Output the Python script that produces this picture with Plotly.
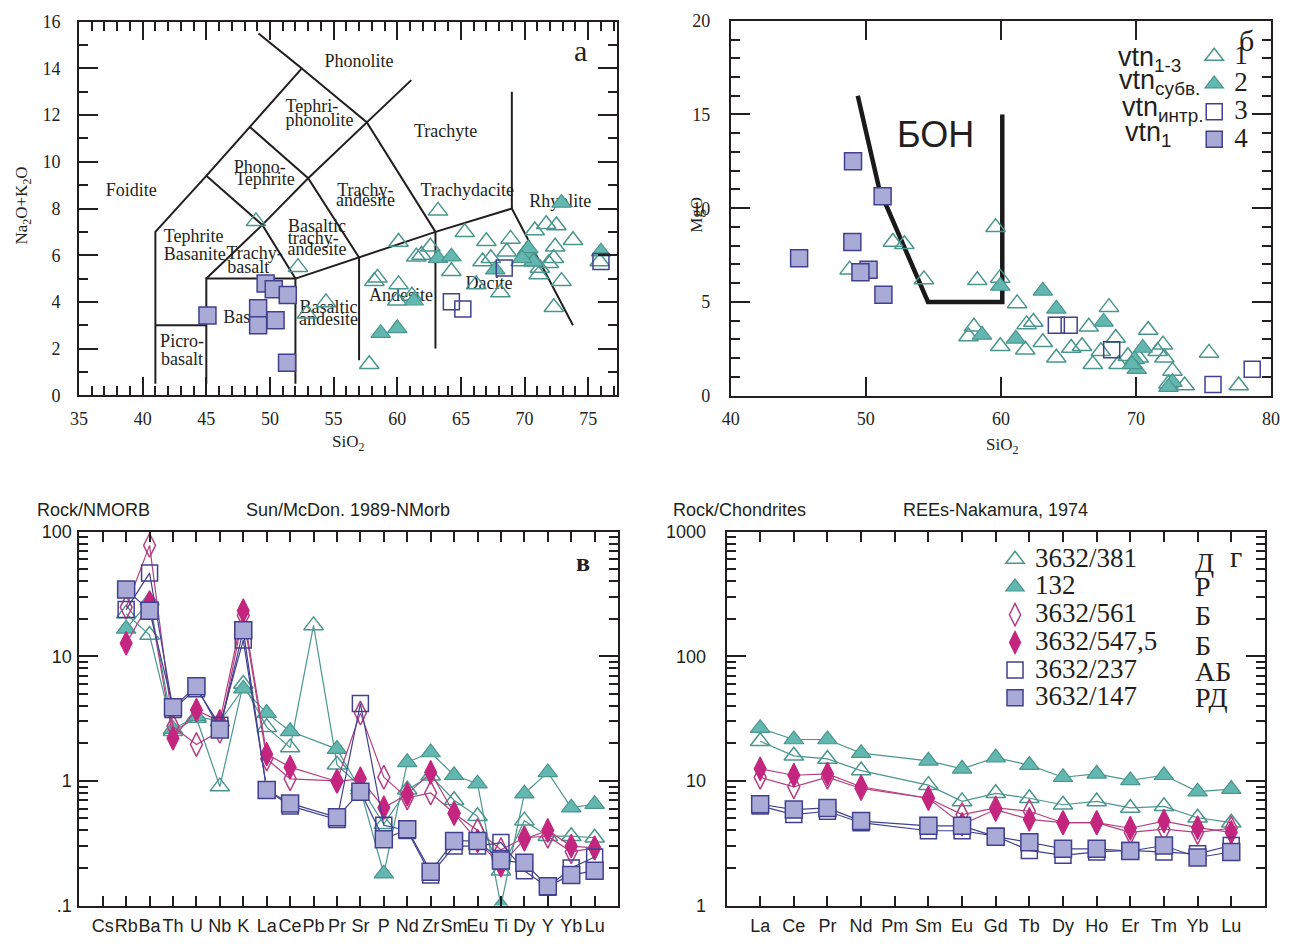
import plotly.graph_objects as go

# The page keeps the browser's default 8px body margin, so every reference pixel
# is shifted by OFF; the figure extends exactly to the window's right/bottom edges.
OFF = 8
FW, FH = 1288, 940
INK = "#231f20"
SERIF = "Liberation Serif"
SANS = "Liberation Sans"

TEAL_FILL = "#62b8b0"
TEAL_LINE = "#4a968f"
MAG_FILL = "#c4267f"
MAG_LINE = "#b33f82"
BLUE_FILL = "#aaaad7"
BLUE_LINE = "#40408f"

# ---------------- data: panel а (TAS) ----------------
tas_open_tri_sio2 = [48.9, 52.2, 54.4, 52.9, 63.2, 65.3, 60.1, 62.6, 61.9, 61.5, 67.0, 68.9, 68.6,
                     66.7, 67.35, 64.25, 58.2, 58.45, 60.1, 60.0, 61.15, 66.2, 68.1, 57.8, 71.7,
                     72.5, 70.8, 73.8, 72.4, 70.2, 72.3, 71.9, 71.1, 72.9, 72.3, 75.9, 69.7, 70.7, 71.2]
tas_open_tri_alk = [7.45, 5.49, 3.98, 3.49, 7.9, 6.98, 6.57, 6.36, 6.01, 5.94, 6.6, 6.7, 6.15,
                    5.73, 5.87, 5.31, 4.89, 5.03, 4.75, 4.05, 4.26, 4.75, 4.4, 1.33, 7.33,
                    7.27, 7.06, 6.64, 6.36, 6.22, 5.87, 5.66, 5.17, 4.89, 3.77, 5.73, 5.73, 5.73, 5.45]
tas_fill_tri_sio2 = [72.9, 63.2, 64.25, 67.7, 70.2, 70.3, 70.7, 69.8, 61.3, 58.7, 60.0, 76.0]
tas_fill_tri_alk = [8.24, 5.87, 5.94, 5.38, 6.08, 6.29, 5.73, 5.87, 4.05, 2.66, 2.87, 6.15]
tas_open_sq_sio2 = [64.25, 65.15, 68.4, 76.0]
tas_open_sq_alk = [4.01, 3.7, 5.45, 5.73]
tas_fill_sq_sio2 = [45.09, 49.66, 50.3, 51.4, 49.07, 49.07, 50.44, 51.34]
tas_fill_sq_alk = [3.42, 4.79, 4.54, 4.30, 3.73, 3.0, 3.21, 1.40]

# TAS field boundaries (SiO2, Na2O+K2O)
tas_boundaries = [
    [(41, 0.5), (41, 7), (45, 9.4), (48.4, 11.5), (52.5, 14), (49.1, 15.5)],
    [(41, 3), (45, 3)],
    [(45, 0.5), (45, 5), (52, 5), (52, 0.5)],
    [(45, 9.4), (49.4, 7.3), (52, 5)],
    [(45, 5), (49.4, 7.3), (53, 9.3), (57.6, 11.7), (61.1, 13.5)],
    [(48.4, 11.5), (53, 9.3), (57, 5.9), (57, 1.5)],
    [(52, 5), (57, 5.9), (63, 7), (69, 8), (73.8, 3)],
    [(52.5, 14), (57.6, 11.7), (63, 7), (63, 2)],
    [(69, 8), (69, 13)],
]
tas_field_names = ["Phonolite", "Tephri-", "phonolite", "Trachyte", "Foidite", "Phono-", "Tephrite",
                   "Trachy-", "andesite", "Trachydacite", "Rhyolite", "Basaltic", "trachy-", "andesite",
                   "Tephrite", "Basanite", "Trachy-", "basalt", "Andesite", "Dacite", "Basaltic",
                   "andesite", "Basalt", "Picro-", "basalt"]
tas_field_sio2 = [57.0, 53.3, 53.9, 63.8, 39.1, 49.2, 49.6, 57.5, 57.5, 65.5, 72.8, 53.7, 53.4, 53.7,
                  44.0, 44.1, 48.8, 48.3, 60.3, 67.2, 54.6, 54.6, 48.1, 43.1, 43.1]
tas_field_alk = [14.24, 12.31, 11.72, 11.26, 8.75, 9.71, 9.21, 8.75, 8.28, 8.75, 8.24, 7.2, 6.69, 6.19,
                 6.78, 5.98, 6.02, 5.44, 4.22, 4.76, 3.72, 3.21, 3.3, 2.25, 1.5]

# ---------------- data: panel б (MgO vs SiO2) ----------------
mg_open_tri_sio2 = [59.6, 52.0, 52.85, 48.8, 54.3, 58.25, 59.95, 61.2, 58.0, 57.6, 61.9, 62.4, 59.95,
                    61.8, 63.1, 64.1, 65.2, 66.0, 66.5, 68.0, 68.5, 66.8, 67.4, 68.7, 70.9, 72.0,
                    71.6, 72.1, 72.7, 72.4, 73.6, 75.4, 77.6, 70.2, 69.4]
mg_open_tri_mgo = [8.98, 8.2, 8.08, 6.72, 6.2, 6.15, 6.28, 4.92, 3.67, 3.15, 3.8, 3.93, 2.63,
                   2.45, 2.85, 2.02, 2.54, 2.63, 3.67, 4.72, 3.07, 1.67, 2.37, 1.67, 3.5, 2.72,
                   2.37, 2.02, 1.32, 0.63, 0.54, 2.28, 0.54, 2.02, 2.1]
mg_fill_tri_sio2 = [63.1, 64.1, 59.95, 58.6, 61.1, 67.6, 70.5, 69.9, 70.05, 69.7, 72.7, 72.4]
mg_fill_tri_mgo = [5.59, 4.63, 5.85, 3.24, 3.03, 3.93, 2.54, 1.93, 1.41, 1.67, 0.72, 0.45]
mg_open_sq_sio2 = [64.1, 65.05, 68.2, 75.7, 78.6]
mg_open_sq_mgo = [3.76, 3.76, 2.45, 0.59, 1.41]
mg_fill_sq_sio2 = [49.05, 51.24, 49.0, 50.2, 49.6, 51.3, 45.06]
mg_fill_sq_mgo = [12.5, 10.64, 8.2, 6.72, 6.58, 5.38, 7.33]
bon_sio2 = [49.4, 51.0, 54.6, 60.1, 60.1]
bon_mgo = [16, 11, 5, 5, 15]

# ---------------- data: panel в (N-MORB normalised) ----------------
spider_elements = ["Cs", "Rb", "Ba", "Th", "U", "Nb", "K", "La", "Ce", "Pb", "Pr", "Sr", "P", "Nd",
                   "Zr", "Sm", "Eu", "Ti", "Dy", "Y", "Yb", "Lu"]
morb_381 = [None, 22, 14.8, 2.5, 3.2, 0.9, 6.0, 2.7, 1.85, 17.7, 1.35, 0.9, 0.45, 0.85, 1.1, 0.70,
            0.52, 0.19, 0.48, 0.36, 0.36, 0.35]
morb_132 = [None, 16.6, 28, 2.6, 3.3, 3.0, 5.5, 3.5, 2.5, None, 1.8, 0.85, 0.18, 1.41, 1.69, 1.11,
            0.95, 0.10, 0.79, 1.17, 0.61, 0.65]
morb_561 = [None, 24.7, 77.6, 2.74, 1.96, 2.5, 21.2, 1.5, 1.04, None, 1.0, 3.5, 1.07, 0.73, 0.8, 0.55,
            0.4, 0.28, 0.35, 0.36, 0.27, 0.29]
morb_5475 = [None, 12.7, 27, 2.2, 3.7, 3.0, 23.2, 1.64, 1.29, None, 0.99, 1.04, 0.61, 0.78, 1.17, 0.55,
             0.33, 0.21, 0.34, 0.40, 0.30, 0.29]
morb_237 = [None, 23.7, 46.5, 3.74, 5.5, 2.8, 13.5, 0.85, 0.63, None, 0.49, 4.17, 0.44, 0.40, 0.176,
            0.30, 0.30, 0.32, 0.19, 0.14, 0.2, 0.245]
morb_147 = [None, 34.4, 23.2, 3.9, 5.74, 2.58, 16.2, 0.845, 0.66, None, 0.51, 0.82, 0.34, 0.41, 0.187,
            0.33, 0.33, 0.23, 0.22, 0.143, 0.176, 0.19]

# ---------------- data: panel г (chondrite normalised REE) ----------------
ree_elements = ["La", "Ce", "Pr", "Nd", "Pm", "Sm", "Eu", "Gd", "Tb", "Dy", "Ho", "Er", "Tm", "Yb", "Lu"]
chon_381 = [20.8, 15.9, 15.0, 12.1, None, 9.25, 6.85, 7.95, 7.26, 6.44, 6.84, 6.07, 6.25, 5.06, 4.62]
chon_132 = [26.5, 21.5, 21.5, 16.7, None, 14.5, 12.5, 15.4, 13.4, 10.7, 11.4, 10.1, 11.1, 8.2, 8.6]
chon_561 = [10.7, 8.97, 10.7, 8.7, None, 7.26, 5.37, 6.07, 5.71, 4.62, 4.62, 3.86, 4.1, 3.86, 4.17]
chon_5475 = [12.5, 11.1, 11.4, 8.97, None, 7.26, 4.48, 5.89, 4.91, 4.62, 4.62, 4.17, 4.76, 4.22, 3.86]
chon_237 = [6.3, 5.37, 5.71, 4.62, None, 3.98, 3.98, 3.6, 2.77, 2.53, 2.69, 2.77, 2.69, 2.6, 3.03]
chon_147 = [6.5, 5.89, 6.07, 4.76, None, 4.36, 4.36, 3.57, 3.22, 2.85, 2.85, 2.74, 3.03, 2.43, 2.69]

sample_names = ["3632/381", "132", "3632/561", "3632/547,5", "3632/237", "3632/147"]
sample_rocks = ["Д", "Р", "Б", "Б", "АБ", "РД"]
group_labels = ["1", "2", "3", "4"]

# ---------------- styles ----------------
def mk(kind, size):
    if kind == "otri":
        return dict(symbol="triangle-up-open", size=size, color=TEAL_LINE, line=dict(width=1.5, color=TEAL_LINE))
    if kind == "ftri":
        return dict(symbol="triangle-up", size=size, color=TEAL_FILL, line=dict(width=1.2, color=TEAL_LINE))
    if kind == "odia":
        return dict(symbol="diamond-tall-open", size=size, color=MAG_LINE, line=dict(width=1.5, color=MAG_LINE))
    if kind == "fdia":
        return dict(symbol="diamond-tall", size=size, color=MAG_FILL, line=dict(width=1.2, color=MAG_FILL))
    if kind == "osq":
        return dict(symbol="square-open", size=size, color=BLUE_LINE, line=dict(width=1.5, color=BLUE_LINE))
    if kind == "fsq":
        return dict(symbol="square", size=size, color=BLUE_FILL, line=dict(width=1.5, color=BLUE_LINE))

fig = go.Figure()

# ---- panel а ----
bx, by = [], []
for seg in tas_boundaries:
    for p in seg:
        bx.append(p[0]); by.append(p[1])
    bx.append(None); by.append(None)
fig.add_trace(go.Scatter(x=bx, y=by, mode="lines", line=dict(color=INK, width=2),
                         showlegend=False, hoverinfo="skip", xaxis="x", yaxis="y"))
fig.add_trace(go.Scatter(x=tas_field_sio2, y=tas_field_alk, text=tas_field_names, mode="text",
                         textfont=dict(family=SERIF, size=18, color=INK), showlegend=False,
                         hoverinfo="skip", xaxis="x", yaxis="y"))
tas_sets = [(tas_open_tri_sio2, tas_open_tri_alk, "otri", 17),
            (tas_fill_tri_sio2, tas_fill_tri_alk, "ftri", 17),
            (tas_open_sq_sio2, tas_open_sq_alk, "osq", 16),
            (tas_fill_sq_sio2, tas_fill_sq_alk, "fsq", 17)]
for i, (xs, ys, kind, sz) in enumerate(tas_sets):
    fig.add_trace(go.Scatter(x=xs, y=ys, mode="markers", marker=mk(kind, sz), name=group_labels[i],
                             showlegend=False, xaxis="x", yaxis="y"))

# ---- panel б ----
fig.add_trace(go.Scatter(x=bon_sio2, y=bon_mgo, mode="lines", line=dict(color="#1a1a1a", width=4.5),
                         showlegend=False, hoverinfo="skip", xaxis="x2", yaxis="y2"))
mg_sets = [(mg_open_tri_sio2, mg_open_tri_mgo, "otri", 17),
           (mg_fill_tri_sio2, mg_fill_tri_mgo, "ftri", 17),
           (mg_open_sq_sio2, mg_open_sq_mgo, "osq", 16),
           (mg_fill_sq_sio2, mg_fill_sq_mgo, "fsq", 17)]
for i, (xs, ys, kind, sz) in enumerate(mg_sets):
    fig.add_trace(go.Scatter(x=xs, y=ys, mode="markers", marker=mk(kind, sz),
                             name='<span style="font-size:27px">%s</span>' % group_labels[i],
                             showlegend=True, legend="legend", xaxis="x2", yaxis="y2"))

# ---- panels в and г ----
styles = [("otri", TEAL_LINE, 17), ("ftri", TEAL_LINE, 17), ("odia", MAG_LINE, 17),
          ("fdia", MAG_LINE, 17), ("osq", BLUE_LINE, 16), ("fsq", BLUE_LINE, 17)]
morb_sets = [morb_381, morb_132, morb_561, morb_5475, morb_237, morb_147]
chon_sets = [chon_381, chon_132, chon_561, chon_5475, chon_237, chon_147]
for i, vals in enumerate(morb_sets):
    kind, lc, sz = styles[i]
    fig.add_trace(go.Scatter(x=spider_elements, y=vals, mode="lines+markers", connectgaps=True,
                             line=dict(color=lc, width=1.2), marker=mk(kind, sz), name=sample_names[i],
                             showlegend=False, xaxis="x3", yaxis="y3"))
for i, vals in enumerate(chon_sets):
    kind, lc, sz = styles[i]
    fig.add_trace(go.Scatter(x=ree_elements, y=vals, mode="lines", connectgaps=True,
                             line=dict(color=lc, width=1.2), showlegend=False, hoverinfo="skip",
                             xaxis="x4", yaxis="y4"))
    fig.add_trace(go.Scatter(x=ree_elements, y=vals, mode="markers", marker=mk(kind, sz),
                             name='<span style="font-size:27px">%s</span>' % sample_names[i],
                             showlegend=True, legend="legend2", xaxis="x4", yaxis="y4"))

# ---------------- layout (positions given in window pixels) ----------------
def xp(px):
    return (px - OFF) / FW

def yp(py):
    return 1 - (py - OFF) / FH

def xdom(a, b):
    return [xp(a), xp(b)]

def ydom(top, bottom):
    return [yp(bottom), yp(top)]

base = dict(showline=True, linecolor=INK, linewidth=2, mirror="allticks", ticks="inside",
            tickcolor=INK, tickwidth=1.6, showgrid=False, zeroline=False)

serif_tick = dict(family=SERIF, size=18, color=INK)
sans_tick = dict(family=SANS, size=18, color=INK)

minor_lin = lambda d: dict(ticks="inside", ticklen=9, dtick=d, tickcolor=INK, tickwidth=1.6, showgrid=False)

dec_minor_3 = [m * 10.0 ** e for e in range(-1, 2) for m in range(2, 10)]
dec_minor_4 = [m * 10.0 ** e for e in range(0, 3) for m in range(2, 10)]

fig.update_layout(
    width=FW, height=FH, margin=dict(l=0, r=0, t=0, b=0),
    paper_bgcolor="white", plot_bgcolor="white",
    xaxis=dict(base, domain=xdom(79, 625), range=[35, 77.29], tick0=35, dtick=5, ticklen=18,
               minor=minor_lin(1), tickfont=serif_tick, ticklabelstandoff=6, anchor="y"),
    yaxis=dict(base, domain=ydom(20, 401.7), range=[0, 16], dtick=2, ticklen=19,
               minor=minor_lin(1), tickfont=serif_tick, ticklabelstandoff=13, anchor="x"),
    xaxis2=dict(base, domain=xdom(740, 1288), range=[40, 80], tickvals=[40, 50, 60, 70, 80], ticklen=19,
                tickfont=serif_tick, ticklabelstandoff=6, ticklabeloverflow="allow", anchor="y2"),
    yaxis2=dict(base, domain=ydom(19, 402), range=[0, 20], dtick=5, ticklen=19,
                minor=minor_lin(1), tickfont=serif_tick, ticklabelstandoff=15, anchor="x2"),
    xaxis3=dict(base, domain=xdom(79.3, 625.7), type="category", categoryorder="array",
                categoryarray=spider_elements, range=[-1, 22], ticklen=10, tickfont=sans_tick,
                tickangle=0, ticklabelstandoff=3, anchor="y3"),
    yaxis3=dict(base, domain=ydom(541, 923), type="log", range=[-1, 2],
                tickvals=[0.1, 1, 10, 100], ticktext=[".1", "1", "10", "100"], ticklen=19,
                minor=dict(ticks="inside", ticklen=9, tickvals=dec_minor_3, tickcolor=INK, tickwidth=1.6),
                tickfont=sans_tick, ticklabelstandoff=2, anchor="x3"),
    xaxis4=dict(base, domain=xdom(735.7, 1281.7), type="category", categoryorder="array",
                categoryarray=ree_elements, range=[-1, 15], ticklen=10, tickfont=sans_tick,
                tickangle=0, ticklabelstandoff=3, anchor="y4"),
    yaxis4=dict(base, domain=ydom(541, 923), type="log", range=[0, 3],
                tickvals=[1, 10, 100, 1000], ticktext=["1", "10", "100", "1000"], ticklen=19,
                minor=dict(ticks="inside", ticklen=9, tickvals=dec_minor_4, tickcolor=INK, tickwidth=1.6),
                tickfont=sans_tick, ticklabelstandoff=15, anchor="x4"),
    legend=dict(x=xp(1210), y=yp(36), xanchor="left", yanchor="top",
                font=dict(family=SERIF, size=19, color=INK), bgcolor="rgba(0,0,0,0)",
                borderwidth=0, tracegroupgap=0),
    legend2=dict(x=xp(1008), y=yp(550), xanchor="left", yanchor="top",
                 font=dict(family=SERIF, size=19, color=INK), bgcolor="rgba(0,0,0,0)",
                 borderwidth=0, tracegroupgap=0),
)

def ann(text, px, py, size, family=SERIF, xanchor="center", angle=0):
    return dict(text=text, x=xp(px), y=yp(py), xref="paper", yref="paper", showarrow=False,
                font=dict(family=family, size=size, color=INK), xanchor=xanchor, yanchor="middle",
                textangle=angle)

anns = [
    ann("Na<sub>2</sub>O+K<sub>2</sub>O", 22, 208, 17, angle=-90),
    ann("SiO<sub>2</sub>", 352, 450, 17),
    ann("а", 588, 49, 30),
    ann("MgO", 705, 217, 17, angle=-90),
    ann("SiO<sub>2</sub>", 1015, 453, 17),
    ann("БОН", 948, 135, 36, family=SANS),
    ann("б", 1263, 39, 30),
    ann("vtn<sub>1-3</sub>", 1131, 58, 27, family=SANS, xanchor="left"),
    ann("vtn<sub>субв.</sub>", 1132, 82, 27, family=SANS, xanchor="left"),
    ann("vtn<sub>интр.</sub>", 1135, 109, 27, family=SANS, xanchor="left"),
    ann("vtn<sub>1</sub>", 1138, 135, 27, family=SANS, xanchor="left"),
    ann("Rock/NMORB", 94, 519, 18, family=SANS),
    ann("Sun/McDon. 1989-NMorb", 352, 519, 18, family=SANS),
    ann("<b>в</b>", 590, 573, 26),
    ann("Rock/Chondrites", 749, 519, 18, family=SANS),
    ann("REEs-Nakamura, 1974", 1008, 519, 18, family=SANS),
    ann("г", 1252, 566, 30),
]
rock_rows = [572, 597, 627, 657, 684, 710]
for r, ypix in zip(sample_rocks, rock_rows):
    anns.append(ann(r, 1209, ypix, 28, xanchor="left"))
fig.update_layout(annotations=anns)

fig.write_html("out.html")
